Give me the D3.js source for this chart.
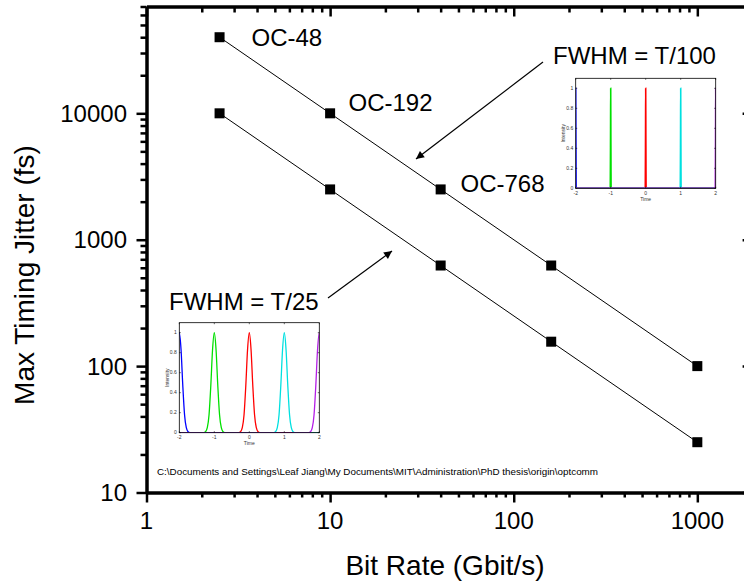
<!DOCTYPE html>
<html>
<head>
<meta charset="utf-8">
<script src="https://cdn.jsdelivr.net/npm/d3@7/dist/d3.min.js"></script>
<style>
  body { margin: 0; background: #fff; }
  svg { display: block; font-family: "Liberation Sans", Arial, Helvetica, sans-serif; }
</style>
</head>
<body>
<svg id="chart" width="744" height="583"></svg>
<script>
// main chart data
const bitRate = [2.5, 10, 40, 160, 1000];
const jitterT100 = [40000, 10000, 2500, 625, 100];
const jitterT25 = [10000, 2500, 625, 156, 25];
const xMajor = [1, 10, 100, 1000];
const yMajor = [10, 100, 1000, 10000];
const pathNote = 'C:\\Documents and Settings\\Leaf Jiang\\My Documents\\MIT\\Administration\\PhD thesis\\origin\\optcomm';

// inset data: pulse centres, colours, and one pulse profile
const pulseCentres = [-2, -1, 0, 1, 2];
const pulseColours = ['#0000ff', '#00e000', '#ff0000', '#00e0e0', '#b41ee6'];
const wideOffsets = [-0.3, -0.25, -0.2, -0.15, -0.1, -0.05, 0, 0.05, 0.1, 0.15, 0.2, 0.25, 0.3];
const wideLevels = [0, 0.01, 0.05, 0.18, 0.47, 0.83, 1, 0.83, 0.47, 0.18, 0.05, 0.01, 0];
const narrowOffsets = [-0.012, -0.004, 0, 0.004, 0.012];
const narrowLevels = [0, 0.6, 1, 0.6, 0];
const insetXTicks = [-2, -1, 0, 1, 2];
const insetYTicks = [0, 0.2, 0.4, 0.6, 0.8, 1];

var config = {
  left: 146.5,
  right: 752.6,
  top: 6.5,
  bottom: 492.5,
  font: 24
};

const svg = d3.select('#chart');
svg.append('rect').attr('width', 744).attr('height', 583).attr('fill', '#fff');

const x = d3.scaleLog().domain([1, 2000]).range([config.left, config.right]);
const y = d3.scaleLog().domain([10, 70000]).range([config.bottom, config.top]);

function logTicks(lo, hi) {
  var out = [];
  for (var d = 1; d <= 100000; d *= 10) {
    for (var k = 1; k < 10; k++) {
      var v = k * d;
      if (v >= lo && v <= hi) out.push(v);
    }
  }
  return out;
}
const isMajor = v => Math.abs(Math.log10(v) - Math.round(Math.log10(v))) < 1e-9;

function styleAxis(g, horiz, sign, minorLen, majorLen, labels) {
  g.select('.domain').attr('stroke', '#000').attr('stroke-width', 3.5);
  g.selectAll('.tick line')
    .attr('stroke', '#000')
    .attr('stroke-width', 2.5)
    .attr(horiz ? 'y2' : 'x2', d => sign * (isMajor(d) ? majorLen : minorLen));
  g.selectAll('.tick text').remove();
}

// bottom axis (ticks outward)
const gx = svg.append('g').attr('transform', 'translate(0,' + config.bottom + ')')
  .call(d3.axisBottom(x).tickValues(logTicks(1, 2000)).tickSizeOuter(0));
styleAxis(gx, true, 1, 5, 10);
// top axis (ticks inward)
const gt = svg.append('g').attr('transform', 'translate(0,' + config.top + ')')
  .call(d3.axisBottom(x).tickValues(logTicks(1, 2000)).tickSizeOuter(0));
styleAxis(gt, true, 1, 6, 10);
// left axis (ticks outward)
const gy = svg.append('g').attr('transform', 'translate(' + config.left + ',0)')
  .call(d3.axisLeft(y).tickValues(logTicks(10, 70000)).tickSizeOuter(0));
styleAxis(gy, false, -1, 6, 10);
// right axis (ticks inward, mostly off page)
const gr = svg.append('g').attr('transform', 'translate(' + config.right + ',0)')
  .call(d3.axisLeft(y).tickValues(logTicks(10, 70000)).tickSizeOuter(0));
styleAxis(gr, false, -1, 5, 10);

// tick labels
svg.append('g').selectAll('text').data(xMajor).enter().append('text')
  .attr('x', d => x(d)).attr('y', 528.5)
  .attr('text-anchor', 'middle').attr('font-size', config.font)
  .text(d => d);
svg.append('g').selectAll('text').data(yMajor).enter().append('text')
  .attr('x', config.left - 19.5).attr('y', d => y(d)).attr('dy', '0.35em')
  .attr('text-anchor', 'end').attr('font-size', config.font)
  .text(d => d);

// axis titles
svg.append('text').attr('x', 445).attr('y', 575)
  .attr('text-anchor', 'middle').attr('font-size', 28)
  .text('Bit Rate (Gbit/s)');
svg.append('text').attr('transform', 'translate(33.5,275) rotate(-90)')
  .attr('text-anchor', 'middle').attr('font-size', 28)
  .text('Max Timing Jitter (fs)');

// series
const line = d3.line().x(d => x(d[0])).y(d => y(d[1]));
[jitterT100, jitterT25].forEach(function (series) {
  const pts = bitRate.map((b, i) => [b, series[i]]);
  svg.append('path').attr('d', line(pts))
    .attr('fill', 'none').attr('stroke', '#000').attr('stroke-width', 1);
  svg.append('g').selectAll('rect').data(pts).enter().append('rect')
    .attr('x', d => x(d[0]) - 5).attr('y', d => y(d[1]) - 5)
    .attr('width', 10).attr('height', 10).attr('fill', '#000');
});

// annotations
function label(txt, lx, ly) {
  svg.append('text').attr('x', lx).attr('y', ly).attr('font-size', config.font).text(txt);
}
label('OC-48', 251.5, 46);
label('OC-192', 348.5, 110.5);
label('OC-768', 460.5, 191.5);
label('FWHM = T/100', 553, 64);
label('FWHM = T/25', 169, 310);

svg.append('defs').append('marker')
  .attr('id', 'head').attr('viewBox', '0 0 10 10')
  .attr('refX', 10).attr('refY', 5)
  .attr('markerWidth', 11).attr('markerHeight', 8)
  .attr('markerUnits', 'userSpaceOnUse')
  .attr('orient', 'auto')
  .append('path').attr('d', 'M0,0L10,5L0,10z').attr('fill', '#000');
function arrow(x1, y1, x2, y2) {
  svg.append('line').attr('x1', x1).attr('y1', y1).attr('x2', x2).attr('y2', y2)
    .attr('stroke', '#000').attr('stroke-width', 1.2).attr('marker-end', 'url(#head)');
}
arrow(543, 62, 416, 159);
arrow(328, 298, 392, 251);

// path note
svg.append('text').attr('x', 157).attr('y', 475)
  .attr('font-size', 9.3)
  .attr('textLength', 441).attr('lengthAdjust', 'spacingAndGlyphs')
  .text(pathNote);

// insets
function inset(id, left, top, offsets, levels, width) {
  const w = 140, h = 110;
  const ix = d3.scaleLinear().domain([-2, 2]).range([left, left + w]);
  const iy = d3.scaleLinear().domain([0, 1.1]).range([top + h, top]);
  const g = svg.append('g');
  g.append('rect').attr('x', left).attr('y', top).attr('width', w).attr('height', h).attr('fill', '#fff');
  g.append('clipPath').attr('id', id).append('rect')
    .attr('x', left).attr('y', top - 2).attr('width', w).attr('height', h + 2);
  const pl = d3.line().x(d => ix(d[0])).y(d => iy(d[1])).curve(d3.curveMonotoneX);
  pulseCentres.forEach(function (c, i) {
    const pts = [[-3, 0]].concat(offsets.map((o, j) => [c + o, levels[j]]), [[3, 0]]);
    g.append('path').attr('d', pl(pts)).attr('clip-path', 'url(#' + id + ')')
      .attr('fill', 'none').attr('stroke', pulseColours[i]).attr('stroke-width', width);
  });
  g.append('rect').attr('x', left).attr('y', top).attr('width', w).attr('height', h)
    .attr('fill', 'none').attr('stroke', '#000').attr('stroke-width', 0.8);
  // inward ticks on all sides
  insetXTicks.forEach(function (t) {
    g.append('line').attr('x1', ix(t)).attr('x2', ix(t)).attr('y1', top + h).attr('y2', top + h - 1.5)
      .attr('stroke', '#000').attr('stroke-width', 0.6);
    g.append('line').attr('x1', ix(t)).attr('x2', ix(t)).attr('y1', top).attr('y2', top + 1.5)
      .attr('stroke', '#000').attr('stroke-width', 0.6);
  });
  insetYTicks.forEach(function (t) {
    g.append('line').attr('x1', left).attr('x2', left + 1.5).attr('y1', iy(t)).attr('y2', iy(t))
      .attr('stroke', '#000').attr('stroke-width', 0.6);
    g.append('line').attr('x1', left + w).attr('x2', left + w - 1.5).attr('y1', iy(t)).attr('y2', iy(t))
      .attr('stroke', '#000').attr('stroke-width', 0.6);
  });
  g.selectAll('.xl').data(insetXTicks).enter().append('text')
    .attr('x', d => ix(d)).attr('y', top + h + 6.5)
    .attr('text-anchor', 'middle').attr('font-size', 5).attr('fill', '#333')
    .text(d => d);
  g.selectAll('.yl').data(insetYTicks).enter().append('text')
    .attr('x', left - 2.5).attr('y', d => iy(d) + 1.7)
    .attr('text-anchor', 'end').attr('font-size', 5).attr('fill', '#333')
    .text(d => d);
  g.append('text').attr('x', left + w / 2).attr('y', top + h + 12.5)
    .attr('text-anchor', 'middle').attr('font-size', 5).attr('fill', '#333').text('Time');
  g.append('text').attr('transform', 'translate(' + (left - 10.5) + ',' + (top + h / 2) + ') rotate(-90)')
    .attr('text-anchor', 'middle').attr('font-size', 5).attr('fill', '#333').text('Intensity');
}
inset('clipTop', 575.7, 78.3, narrowOffsets, narrowLevels, 1.6);
inset('clipBottom', 179.3, 322.7, wideOffsets, wideLevels, 1.3);
</script>
</body>
</html>
